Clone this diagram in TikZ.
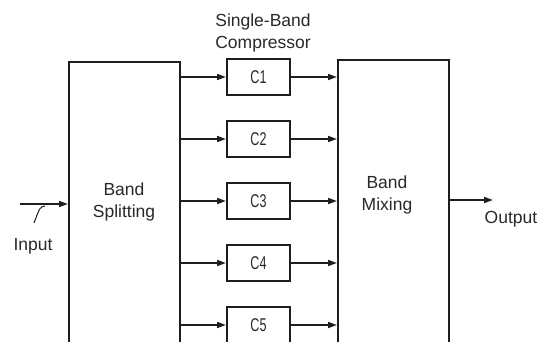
\documentclass[tikz,border=0pt]{standalone}
\usepackage{fontspec}
\setmainfont{Liberation Sans}
\newfontfamily\narrowsans[FakeStretch=0.68]{Liberation Sans}
\usetikzlibrary{arrows.meta}
\definecolor{lineDark}{RGB}{30,30,30}
\definecolor{textDark}{RGB}{40,40,40}
\tikzset{
  bigbox/.style={draw=lineDark, line width=2pt, minimum width=111pt, minimum height=320pt, anchor=north, inner sep=0pt},
  comp/.style={draw=lineDark, line width=2pt, minimum width=63pt, minimum height=36pt, inner sep=0pt, text=textDark, font=\narrowsans\fontsize{18.5}{20}\selectfont},
  arrow/.style={-{Triangle[length=9pt,width=6pt]}, line width=1.7pt, draw=lineDark},
  note/.style={align=center, text=textDark, font=\fontsize{17.5}{22}\selectfont}
}

\begin{document}
\begin{tikzpicture}[x=1pt,y=-1pt]
  \useasboundingbox (0,0) rectangle (543,342);
  \clip (0,0) rectangle (543,342);

  \node[note] (title) at (263,33) {Single-Band\\Compressor};

  \node[bigbox] (split) at (124.5,61) {};
  \node[note] (splitlbl) at (124,202) {Band\\Splitting};
  \node[bigbox] (mix) at (393.5,59) {};
  \node[note] (mixlbl) at (387,195) {Band\\Mixing};

  \node[comp] (c1) at (258.5,77) {C1};
  \node[comp] (c2) at (258.5,139) {C2};
  \node[comp] (c3) at (258.5,201) {C3};
  \node[comp] (c4) at (258.5,263) {C4};
  \node[comp] (c5) at (258.5,325) {C5};

  \foreach \k in {1,...,5} {
    \draw[arrow] (split.east |- c\k) -- (c\k.west);
    \draw[arrow] (c\k.east) -- (mix.west |- c\k);
  }

  \coordinate (in) at (20,204);
  \draw[arrow] (in) -- (split.west |- in);
  \draw[line width=1pt, draw=lineDark] (45,206) .. controls (40,207) .. (34,223);
  \node[note] (inlbl) at (33,246) {Input};

  \coordinate (out) at (493,200);
  \draw[arrow] (mix.east |- out) -- (out);
  \node[note] (outlbl) at (511,219) {Output};
\end{tikzpicture}
\end{document}
